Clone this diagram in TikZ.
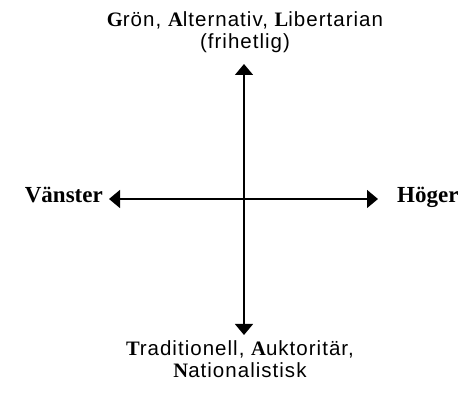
\documentclass[tikz,border=0pt]{standalone}
\usepackage{fontspec}
\setmainfont{Liberation Sans}[LetterSpace=5]
\newfontfamily\seriffam{Liberation Serif}
\usetikzlibrary{arrows.meta,positioning}
\newcommand{\initial}[1]{{\seriffam\bfseries #1}}

\begin{document}
\begin{tikzpicture}[
    x=1pt, y=1pt,
    % --- STYLES ---
    axis/.style={
        {Triangle[length=11pt,width=18pt]}-{Triangle[length=11pt,width=18pt]},
        line width=1.4pt
    },
    pole/.style={font=\seriffam\bfseries\fontsize{23}{26}\selectfont, inner sep=0pt},
    axislabel/.style={align=center, font=\fontsize{20.5}{22}\selectfont, inner sep=0pt}
]
\useasboundingbox (0,0) rectangle (460,396);

% ===== 1. AXIS ENDS =====
\coordinate (north) at (244,332);
\coordinate (south) at (244,61);
\coordinate (west) at (109,197);
\coordinate (east) at (378,197);

% ===== 2. LABELS =====
\node[pole, anchor=base east] (left) at (103,193) {Vänster};
\node[pole, anchor=base west] (right) at (397,193) {Höger};

% base anchor sits on the last line
\node[axislabel, anchor=base] (top) at (245,347)
    {\initial{G}rön, \initial{A}lternativ, \initial{L}ibertarian\\ (frihetlig)};
\node[axislabel, anchor=base] (bottom) at (240,19)
    {\initial{T}raditionell, \initial{A}uktoritär,\\ \initial{N}ationalistisk};

% ===== 3. AXES =====
\draw[axis] (south) -- (north);
\draw[axis] (west) -- (east);

\end{tikzpicture}
\end{document}
